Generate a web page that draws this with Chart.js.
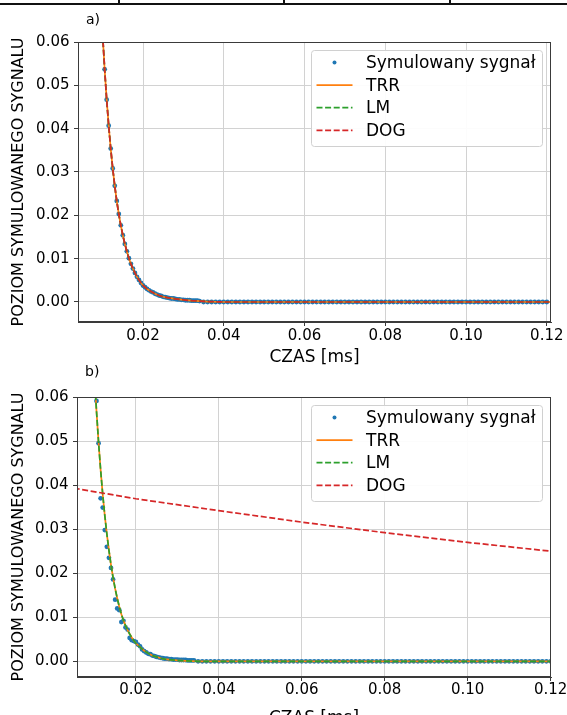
<!DOCTYPE html>
<html><head><meta charset="utf-8">
<script src="https://cdn.jsdelivr.net/npm/chart.js@4.4.1/dist/chart.umd.min.js"></script>
<style>
html,body{margin:0;padding:0;background:#fff;}
body{width:567px;height:715px;overflow:hidden;position:relative;font-family:'DejaVu Sans',sans-serif;}
.wrap{position:absolute;left:0;width:567px;}
#wa{top:0;height:372px;}
#wb{top:362px;height:370px;}
.lbl{position:absolute;font-size:14px;line-height:16px;color:#000;z-index:3;font-family:'DejaVu Sans',sans-serif;}
.tline{position:absolute;background:#111;z-index:3;}
</style></head><body>
<div class="tline" style="left:0;top:3px;width:567px;height:2px"></div>
<div class="tline" style="left:118px;top:0;width:1.5px;height:4px"></div>
<div class="tline" style="left:283px;top:0;width:1.5px;height:4px"></div>
<div class="tline" style="left:449px;top:0;width:1.5px;height:4px"></div>
<div class="lbl" style="left:86px;top:11px">a)</div>
<div class="lbl" style="left:85px;top:363px">b)</div>
<div class="wrap" id="wa"><canvas id="ca"></canvas></div>
<div class="wrap" id="wb"><canvas id="cb"></canvas></div>
<script>
// ---------- data ----------
const seriesLabels = ['Symulowany sygnał', 'TRR', 'LM', 'DOG'];
const xTitle = 'CZAS [ms]';
const yTitle = 'POZIOM SYMULOWANEGO SYGNALU';
const xTickValues = [0.02, 0.04, 0.06, 0.08, 0.10, 0.12];
const yTickValues = [0.00, 0.01, 0.02, 0.03, 0.04, 0.05, 0.06];

const timeHead = [0.0105,0.0110,0.0115,0.0120,0.0125,0.0130,0.0135,0.0140,0.0145,0.0150,
  0.0155,0.0160,0.0165,0.0170,0.0175,0.0180,0.0185,0.0190,0.0195,0.0200,
  0.0205,0.0210,0.0215,0.0220,0.0225,0.0230,0.0235,0.0240,0.0245,0.0250,
  0.0255,0.0260,0.0265,0.0270,0.0275,0.0280,0.0285,0.0290,0.0295,0.0300,
  0.0305,0.0310,0.0315,0.0320,0.0325,0.0330,0.0335,0.0340];
const timeTail = [0.035,0.036,0.037,0.038,0.039,0.040,0.041,0.042,0.043,0.044,0.045,0.046,0.047,0.048,0.049,
  0.050,0.051,0.052,0.053,0.054,0.055,0.056,0.057,0.058,0.059,0.060,0.061,0.062,0.063,0.064,0.065,0.066,0.067,0.068,0.069,
  0.070,0.071,0.072,0.073,0.074,0.075,0.076,0.077,0.078,0.079,0.080,0.081,0.082,0.083,0.084,0.085,0.086,0.087,0.088,0.089,
  0.090,0.091,0.092,0.093,0.094,0.095,0.096,0.097,0.098,0.099,0.100,0.101,0.102,0.103,0.104,0.105,0.106,0.107,0.108,0.109,
  0.110,0.111,0.112,0.113,0.114,0.115,0.116,0.117,0.118,0.119,0.120];
const signalTail = [0,0,0,0,0,0,0,0,0,0,0,0,0,0,0,
  0,0,0,0,0,0,0,0,0,0,0,0,0,0,0,0,0,0,0,0,
  0,0,0,0,0,0,0,0,0,0,0,0,0,0,0,0,0,0,0,0,
  0,0,0,0,0,0,0,0,0,0,0,0,0,0,0,0,0,0,0,0,
  0,0,0,0,0,0,0,0,0,0,0];

const signalAHead = [0.0537,0.0467,0.0407,0.0354,0.0308,0.0268,0.0233,0.0203,0.0177,0.0154,
  0.0134,0.0117,0.0101,0.0088,0.0077,0.0067,0.0058,0.0051,0.0044,0.0038,
  0.0034,0.0030,0.0027,0.0024,0.0022,0.0019,0.0017,0.0015,0.0014,0.0012,
  0.0011,0.0010,0.0009,0.0008,0.0008,0.0007,0.0006,0.0006,0.0005,0.0005,
  0.0004,0.0004,0.0004,0.0003,0.0003,0.0003,0.0003,0.0002];
const signalBHead = [0.0591,0.0495,0.0370,0.0349,0.0298,0.0260,0.0235,0.0212,0.0186,0.0140,
  0.0120,0.0116,0.0089,0.0092,0.0077,0.0072,0.0053,0.0048,0.0046,0.0044,
  0.0038,0.0034,0.0027,0.0023,0.0020,0.0017,0.0016,0.0013,0.0012,0.0010,
  0.0009,0.0008,0.0007,0.0006,0.0006,0.0005,0.0005,0.0004,0.0004,0.0004,
  0.0003,0.0003,0.0003,0.0003,0.0002,0.0002,0.0002,0.0002];

const fitATime = [0.0090,0.0095,0.0100,0.0105,0.0110,0.0115,0.0120,0.0125,0.0130,0.0135,0.0140,0.0145,0.0150,
  0.0155,0.0160,0.0165,0.0170,0.0175,0.0180,0.0185,0.0190,0.0195,0.0200,0.0210,0.0220,0.0230,0.0240,0.0250,
  0.0260,0.0280,0.0300,0.0320,0.0340,0.0360,0.0400,0.1210];
const fitAValues = [0.0820,0.0710,0.0617,0.0537,0.0467,0.0407,0.0354,0.0308,0.0268,0.0233,0.0203,0.0177,0.0154,
  0.0134,0.0117,0.0101,0.0088,0.0077,0.0067,0.0058,0.0051,0.0044,0.0038,0.0030,0.0024,0.0019,0.0015,0.0012,
  0.0010,0.0007,0.0005,0.0003,0.0002,0.0001,0.0000,0.0000];

const fitBTime = [0.0090,0.0095,0.0100,0.0105,0.0110,0.0115,0.0120,0.0125,0.0130,0.0135,0.0140,0.0145,0.0150,
  0.0155,0.0160,0.0165,0.0170,0.0175,0.0180,0.0185,0.0190,0.0195,0.0200,0.0210,0.0220,0.0230,0.0240,0.0250,
  0.0260,0.0270,0.0280,0.0300,0.0320,0.0350,0.0400,0.1210];
const fitBValues = [0.0860,0.0748,0.0651,0.0568,0.0497,0.0434,0.0379,0.0331,0.0289,0.0252,0.0219,0.0190,0.0165,
  0.0143,0.0124,0.0107,0.0093,0.0081,0.0071,0.0062,0.0054,0.0047,0.0041,0.0032,0.0024,0.0018,0.0013,0.0010,
  0.0007,0.0005,0.0004,0.0002,0.0001,0.0000,0.0000,0.0000];

const dogBTime = [0.0050,0.0200,0.0400,0.0600,0.0800,0.1000,0.1210];
const dogBValues = [0.0393,0.0369,0.0342,0.0316,0.0292,0.0270,0.0249];

// ---------- styling ----------
const C_SIG = '#1f77b4', C_TRR = '#ff7f0e', C_LM = '#2ca02c', C_DOG = '#d62728';
const DASH = [6, 2.6];
Chart.defaults.font.family = "'DejaVu Sans', sans-serif";
Chart.defaults.color = '#000';

function pts(xs, ys) { return xs.map((x, i) => ({x: x, y: ys[i]})); }

const framePlugin = {
  id: 'frame',
  afterDatasetsDraw(chart) {
    const {ctx, chartArea: a} = chart;
    ctx.save();
    ctx.strokeStyle = '#3a3a3a';
    ctx.lineWidth = 1;
    const l = Math.round(a.left) + 0.5, r = Math.round(a.right) - 0.5;
    const t = Math.round(a.top) + 0.5, b = Math.round(a.bottom) - 0.5;
    ctx.strokeRect(l, t, r - l, b - t);
    ctx.restore();
  }
};

const legendPlugin = {
  id: 'mplLegend',
  afterDatasetsDraw(chart) {
    const {ctx, chartArea: a} = chart;
    const ds = chart.data.datasets;
    const w = 231, h = 96;
    const x0 = a.right - 9 - w, y0 = a.top + 8;
    ctx.save();
    ctx.beginPath();
    ctx.roundRect(x0 + 0.5, y0 + 0.5, w, h, 3);
    ctx.fillStyle = 'rgba(255,255,255,0.92)';
    ctx.fill();
    ctx.strokeStyle = '#d0d0d0';
    ctx.lineWidth = 1;
    ctx.stroke();
    ctx.font = "17px 'DejaVu Sans', sans-serif";
    ctx.textBaseline = 'middle';
    ctx.textAlign = 'left';
    ds.forEach((d, i) => {
      const cy = y0 + 12.5 + i * 22.6;
      if (d.showLine === false) {
        ctx.beginPath();
        ctx.fillStyle = d.pointBackgroundColor;
        ctx.arc(x0 + 23.5, cy, 2, 0, Math.PI * 2);
        ctx.fill();
      } else {
        ctx.beginPath();
        ctx.strokeStyle = d.borderColor;
        ctx.lineWidth = d.borderWidth;
        ctx.setLineDash(d.borderDash || []);
        ctx.moveTo(x0 + 5.5, cy);
        ctx.lineTo(x0 + 41.5, cy);
        ctx.stroke();
        ctx.setLineDash([]);
      }
      ctx.fillStyle = '#000';
      ctx.fillText(d.label, x0 + 55, cy + 1);
    });
    ctx.restore();
  }
};

function makeChart(canvasId, cfg) {
  return new Chart(document.getElementById(canvasId), {
    type: 'scatter',
    data: {
      datasets: [
        {label: seriesLabels[0], data: cfg.signal, showLine: false, pointRadius: 2.4, pointBorderWidth: 0,
         pointBackgroundColor: C_SIG, backgroundColor: C_SIG, borderColor: C_SIG, order: 4, clip: 0},
        {label: seriesLabels[1], data: cfg.trr, showLine: true, pointRadius: 0, borderColor: C_TRR,
         borderWidth: 1.7, order: 3, clip: 0, tension: 0},
        {label: seriesLabels[2], data: cfg.lm, showLine: true, pointRadius: 0, borderColor: C_LM,
         borderWidth: 1.7, borderDash: DASH, order: 2, clip: 0, tension: 0},
        {label: seriesLabels[3], data: cfg.dog, showLine: true, pointRadius: 0, borderColor: C_DOG,
         borderWidth: 1.7, borderDash: DASH, order: 1, clip: 0, tension: 0}
      ]
    },
    options: {
      responsive: true,
      maintainAspectRatio: false,
      animation: false,
      events: [],
      devicePixelRatio: 1,
      layout: {padding: {left: 0, right: 16, top: cfg.padTop, bottom: 0}},
      plugins: {legend: {display: false}, tooltip: {enabled: false}},
      scales: {
        x: {
          type: 'linear', min: cfg.xmin, max: cfg.xmax,
          afterBuildTicks: s => { s.ticks = xTickValues.map(v => ({value: v})); },
          afterFit: s => { s.height = cfg.xAxisH; s.paddingLeft = 0; s.paddingRight = 0; },
          grid: {color: '#d2d2d2', lineWidth: 1, tickColor: '#3a3a3a', tickLength: 4, drawTicks: true},
          border: {display: true, color: '#3a3a3a', width: 1},
          ticks: {font: {size: 15}, padding: cfg.xTickPad, maxRotation: 0, autoSkip: false,
                  callback: v => Number(v).toFixed(2)},
          title: {display: true, text: xTitle, font: {size: 17}, padding: {top: 0, bottom: cfg.xTitlePad}}
        },
        y: {
          type: 'linear', min: cfg.ymin, max: cfg.ymax,
          afterBuildTicks: s => { s.ticks = yTickValues.map(v => ({value: v})); },
          afterFit: s => { s.width = cfg.yAxisW; s.paddingTop = 0; s.paddingBottom = 0; },
          grid: {color: '#d2d2d2', lineWidth: 1, tickColor: '#3a3a3a', tickLength: 4, drawTicks: true},
          border: {display: true, color: '#3a3a3a', width: 1},
          ticks: {font: {size: 15}, padding: 4.5, autoSkip: false, callback: v => Number(v).toFixed(2)},
          title: {display: true, text: yTitle, font: {size: 16}, padding: {top: 9.4, bottom: 0}}
        }
      }
    },
    plugins: [framePlugin, legendPlugin]
  });
}

const fullTimeA = timeHead.concat(timeTail);
makeChart('ca', {
  signal: pts(fullTimeA, signalAHead.concat(signalTail)),
  trr: pts(fitATime, fitAValues),
  lm: pts(fitATime, fitAValues),
  dog: pts(fitATime, fitAValues),
  xmin: 0.0039, xmax: 0.12104, ymin: -0.00462, ymax: 0.06,
  padTop: 42, xAxisH: 50, yAxisW: 78, xTickPad: 1.5, xTitlePad: 3.8
});
makeChart('cb', {
  signal: pts(fullTimeA, signalBHead.concat(signalTail)),
  trr: pts(fitBTime, fitBValues),
  lm: pts(fitBTime, fitBValues),
  dog: pts(dogBTime, dogBValues),
  xmin: 0.0058, xmax: 0.1201, ymin: -0.00356, ymax: 0.06,
  padTop: 35, xAxisH: 55, yAxisW: 77, xTickPad: 0, xTitlePad: 3.6
});
</script>
</body></html>
